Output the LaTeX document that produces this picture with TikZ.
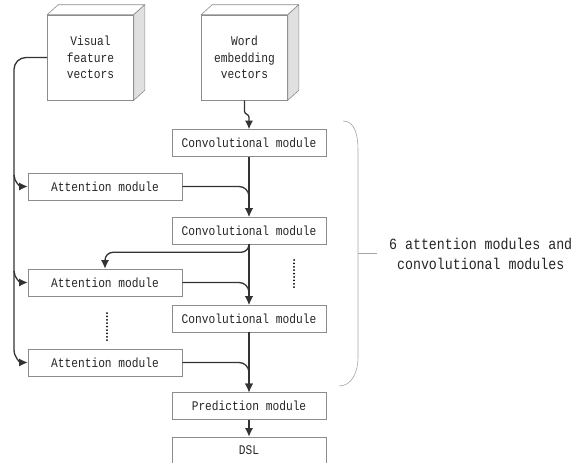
\documentclass[tikz,border=0pt]{standalone}
\usepackage{fontspec}
\setmainfont{Liberation Mono}[FakeStretch=0.85]
\usetikzlibrary{arrows.meta,calc}
\begin{document}
\begin{tikzpicture}[x=1pt,y=-1pt,
  every node/.style={font=\fontsize{13.2}{16.5}\selectfont, text=black!85},
  modbox/.style={draw=black!45, line width=0.6pt, fill=white, minimum width=154pt, minimum height=27pt, inner sep=0pt},
  cube/.style={draw=black!45, line width=0.6pt, fill=white, minimum width=86pt, minimum height=85pt, inner sep=0pt, align=center},
  face/.style={draw=black!45, line width=0.6pt, line join=round},
  conn/.style={draw=black!80, line width=1.3pt},
  arr/.style={conn, -{Latex[length=8.5pt,width=8pt]}},
  dots/.style={draw=black, line width=2pt, line cap=round, dash pattern=on 0pt off 3.4pt},
  bracket/.style={draw=black!35, line width=0.6pt}]
\useasboundingbox (0,0) rectangle (574,463);

% input cubes
\node[cube] (vis) at (90.5,57.5) {Visual\\feature\\vectors};
\node[cube] (word) at (244.5,57.5) {Word\\embedding\\vectors};
\foreach \c in {vis,word}{
  \draw[face, fill=white] (\c.north west) -- ++(11,-10) -- ($(\c.north east)+(11,-10)$) -- (\c.north east) -- cycle;
  \draw[face, fill=black!12] (\c.north east) -- ++(11,-10) -- ($(\c.south east)+(11,-10)$) -- (\c.south east) -- cycle;
}

% module column
\node[modbox] (conv1) at (249,143) {Convolutional module};
\node[modbox] (att1)  at (105,186.5) {Attention module};
\node[modbox] (conv2) at (249,230.5) {Convolutional module};
\node[modbox] (att2)  at (105,282.5) {Attention module};
\node[modbox] (conv3) at (249,318.5) {Convolutional module};
\node[modbox] (att3)  at (105,362.5) {Attention module};
\node[modbox] (pred)  at (249,406) {Prediction module};
\node[modbox, minimum height=26pt] (dsl) at (249,450) {DSL};

% word embeddings into the first convolution
\coordinate (wbend) at ($(word.south)+(0,11)$);
\coordinate (cin) at ($(conv1.north)+(0,-12)$);
\draw[arr] (word.south) -- (wbend) to[out=-90,in=90] (cin) -- (conv1.north);

% main convolution chain
\draw[arr] (conv1.south) -- (conv2.north);
\draw[arr] (conv2.south) -- (conv3.north);
\draw[arr] (conv3.south) -- (pred.north);
\draw[arr] (pred.south) -- (dsl.north);

% attention outputs merging into the chain
\draw[arr, rounded corners=10pt] (att1.east) -| (conv2.north);
\draw[arr, rounded corners=10pt] (att2.east) -| (conv3.north);
\draw[arr, rounded corners=10pt] (att3.east) -| (pred.north);

% convolution output feeding the next attention
\draw[arr, rounded corners=8pt] (conv2.south) -- ++(0,8) -| (att2.north);

% visual features fed to every attention module
\coordinate (lx) at (14,350);
\coordinate (b1) at (14,175);
\coordinate (b2) at (14,271);
\draw[conn, rounded corners=12pt] (vis.west) -| (lx);
\draw[arr] (lx) to[out=-90,in=180] (att3.west);
\draw[arr] (b1) to[out=-90,in=180] (att1.west);
\draw[arr] (b2) to[out=-90,in=180] (att2.west);

% ellipses
\draw[dots] (294,260) -- (294,289);
\draw[dots] (107,313) -- (107,342);

% bracket and its label
\coordinate (btop) at (343,121);
\coordinate (bbot) at (339,386);
\coordinate (bmid) at (358,253);
\draw[bracket] (btop) to[out=0,in=90] (358,150) -- (358,358) to[out=-90,in=0] (bbot);
\node[font=\fontsize{15.6}{20}\selectfont, align=center, anchor=west, inner sep=0pt] (lbl) at (389,254) {6 attention modules and\\convolutional modules};
\draw[bracket] (bmid) -- ++(19,0);
\end{tikzpicture}
\end{document}
